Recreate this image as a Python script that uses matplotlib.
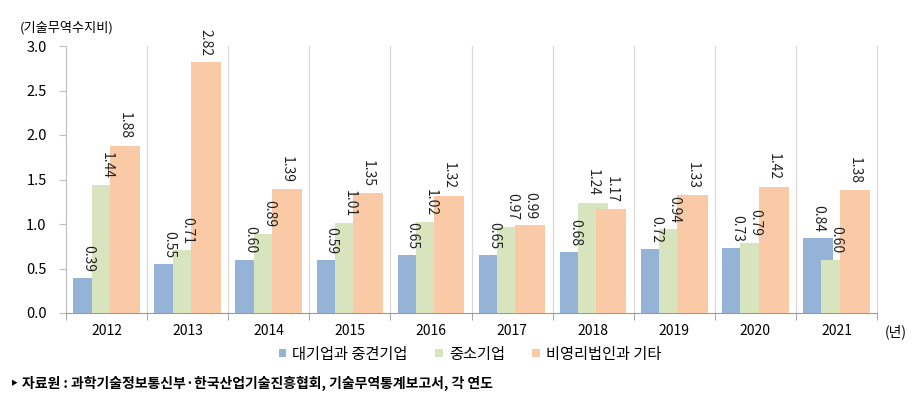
import matplotlib
matplotlib.use("Agg")
import matplotlib.pyplot as plt
import numpy as np

plt.rcParams['font.family'] = ['Noto Sans CJK KR', 'DejaVu Sans']

years = ['2012', '2013', '2014', '2015', '2016', '2017', '2018', '2019', '2020', '2021']
large = [0.39, 0.55, 0.60, 0.59, 0.65, 0.65, 0.68, 0.72, 0.73, 0.84]
small = [1.44, 0.71, 0.89, 1.01, 1.02, 0.97, 1.24, 0.94, 0.79, 0.60]
nonprofit = [1.88, 2.82, 1.39, 1.35, 1.32, 0.99, 1.17, 1.33, 1.42, 1.38]
series_names = ['대기업과 중견기업', '중소기업', '비영리법인과 기타']
colors = ['#95B3D7', '#D7E4BD', '#FAC9A6']

fig = plt.figure(figsize=(9.24, 4.08), dpi=100)
ax = fig.add_axes([66/924, 1-313/408, (877-66)/924, (313-46)/408])

x = np.arange(len(years))
w = 0.37
step = 0.225
offsets = [-step, 0, step]
for i, (vals, c, name) in enumerate(zip([large, small, nonprofit], colors, series_names)):
    ax.bar(x + offsets[i], vals, width=w, color=c, label=name, zorder=2 + i)
    for xi, v in zip(x + offsets[i], vals):
        ax.text(xi, v + 0.07, f'{v:.2f}', rotation=270, ha='center', va='bottom',
                fontsize=10, color='#222222', zorder=10)

ax.set_xlim(-0.5, len(years) - 0.5)
ax.set_ylim(0, 3.0)
ax.set_yticks(np.arange(0, 3.01, 0.5))
ax.set_yticklabels([f'{v:.1f}' for v in np.arange(0, 3.01, 0.5)], fontsize=10.5)
ax.set_xticks(x)
ax.set_xticklabels(years, fontsize=10)
ax.tick_params(axis='x', length=0, pad=8)
ax.tick_params(axis='y', length=5, color='#BFBFBF', pad=9)
ax.set_xticks(np.arange(-0.5, len(years), 1), minor=True)
ax.tick_params(axis='x', which='minor', length=5, color='#999999')
for b in np.arange(0.5, len(years) - 0.5, 1):
    ax.axvline(b, color='#D9D9D9', lw=0.9, zorder=1)
ax.spines['top'].set_visible(False)
ax.spines['left'].set_color('#BFBFBF')
ax.spines['bottom'].set_color('#999999')
ax.spines['right'].set_color('#D9D9D9')

fig.text(20/924, 1-28/408, '(기술무역수지비)', fontsize=9.5, va='center', ha='left')
fig.text(885/924, 1-332/408, '(년)', fontsize=10, va='center', ha='left')

fig.legend(loc='center', bbox_to_anchor=(470/924, 1-354/408), ncol=3, frameon=False,
           fontsize=11, handlelength=0.5, handleheight=0.5, handletextpad=0.4,
           columnspacing=1.8)

fig.text(10/924, 1-383/408, '‣ 자료원 : 과학기술정보통신부·한국산업기술진흥협회, 기술무역통계보고서, 각 연도',
         fontsize=10, fontweight='bold', va='center', ha='left')

fig.savefig('out.png', dpi=100)
